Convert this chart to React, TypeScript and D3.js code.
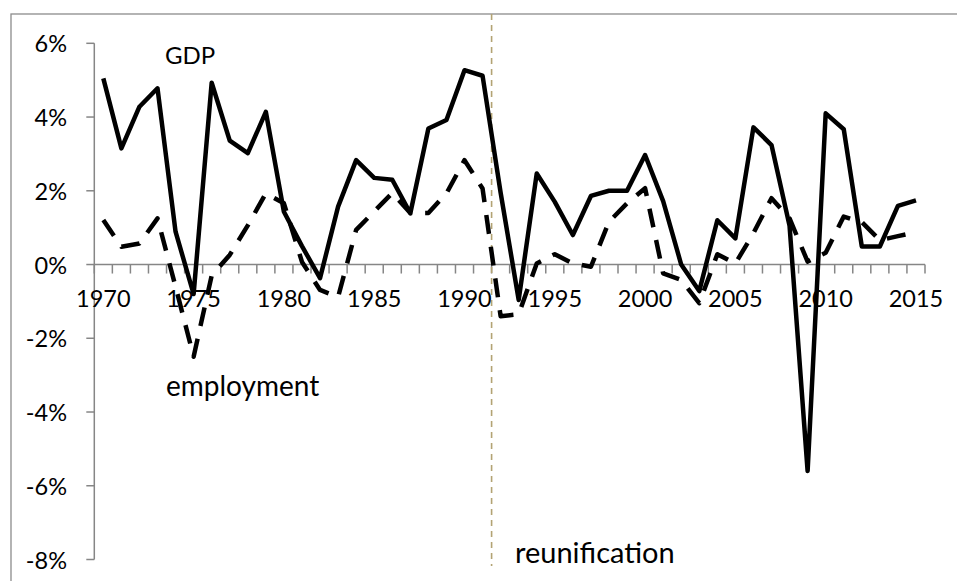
import React from "react";
import * as d3 from "d3";

const years: number[] = [
  1970, 1971, 1972, 1973, 1974, 1975, 1976, 1977, 1978, 1979,
  1980, 1981, 1982, 1983, 1984, 1985, 1986, 1987, 1988, 1989,
  1990, 1991, 1992, 1993, 1994, 1995, 1996, 1997, 1998, 1999,
  2000, 2001, 2002, 2003, 2004, 2005, 2006, 2007, 2008, 2009,
  2010, 2011, 2012, 2013, 2014, 2015,
];

const gdp: number[] = [
  5.05, 3.15, 4.28, 4.78, 0.89, -0.8, 4.93, 3.36, 3.02, 4.14,
  1.43, 0.5, -0.37, 1.57, 2.83, 2.35, 2.3, 1.39, 3.69, 3.92,
  5.27, 5.12, 1.95, -0.96, 2.47, 1.7, 0.8, 1.86, 2.0, 2.0,
  2.97, 1.72, 0.0, -0.72, 1.2, 0.71, 3.72, 3.24, 1.05, -5.6,
  4.1, 3.67, 0.49, 0.49, 1.59, 1.74,
];

const employment: number[] = [
  1.21, 0.48, 0.57, 1.25, -0.6, -2.5, -0.3, 0.26, 1.06, 1.93,
  1.66, 0.07, -0.69, -0.88, 0.94, 1.44, 1.94, 1.4, 1.4, 1.93,
  2.83, 2.06, -1.4, -1.35, 0.03, 0.28, 0.03, -0.06, 1.16, 1.66,
  2.07, -0.24, -0.42, -1.05, 0.28, 0.03, 0.85, 1.8, 1.25, 0.08,
  0.32, 1.3, 1.15, 0.66, 0.77, 0.88,
];

const yTicks: number[] = [-8, -6, -4, -2, 0, 2, 4, 6];
const xLabelYears: number[] = [1970, 1975, 1980, 1985, 1990, 1995, 2000, 2005, 2010, 2015];
const reunificationAfter = 1991;

const W = 957;
const H = 581;
const FONT = "Lato, 'Open Sans', sans-serif";

export default function App() {
  const x = d3
    .scaleBand<number>()
    .domain(years)
    .range([94.3, 925])
    .padding(0);
  const bw = x.bandwidth();
  const cx = (yr: number) => (x(yr) as number) + bw / 2;
  const y = d3.scaleLinear().domain([-8, 6]).range([559.5, 43.3]);

  const line = d3
    .line<number>()
    .x((_, i) => cx(years[i]))
    .y((v) => y(v));

  const boundaries = [...years.map((yr) => x(yr) as number), x.range()[1]];
  const reunX = (x(reunificationAfter) as number) + bw;
  const axisColor = "#868686";

  return (
    <svg
      width={W}
      height={H}
      style={{ position: "absolute", left: 0, top: 0, background: "#fff" }}
      fontFamily={FONT}
    >
      <rect x={0} y={0} width={W} height={H} fill="#fff" />
      <rect
        x={11}
        y={14}
        width={W + 20}
        height={H + 20}
        fill="none"
        stroke="#8c8c8c"
        strokeWidth={1.3}
      />

      {/* y axis */}
      <line x1={x.range()[0]} x2={x.range()[0]} y1={y(6)} y2={y(-8)} stroke={axisColor} strokeWidth={1.5} />
      {yTicks.map((t) => (
        <g key={t}>
          <line x1={x.range()[0] - 8} x2={x.range()[0]} y1={y(t)} y2={y(t)} stroke={axisColor} strokeWidth={1.5} />
          <text
            x={67}
            y={y(t)}
            textAnchor="end"
            dominantBaseline="central"
            fontSize={23.5}
            fill="#000"
          >
            {`${t}%`}
          </text>
        </g>
      ))}

      {/* x axis */}
      <line x1={x.range()[0]} x2={x.range()[1]} y1={y(0)} y2={y(0)} stroke={axisColor} strokeWidth={1.5} />
      {boundaries.map((b, i) => (
        <line key={i} x1={b} x2={b} y1={y(0)} y2={y(0) + 9} stroke={axisColor} strokeWidth={1.5} />
      ))}
      {xLabelYears.map((yr) => (
        <text key={yr} x={cx(yr)} y={307} textAnchor="middle" fontSize={23.5} fill="#000">
          {yr}
        </text>
      ))}

      {/* reunification marker */}
      <line
        x1={reunX}
        x2={reunX}
        y1={14}
        y2={566}
        stroke="#b3a374"
        strokeWidth={1.6}
        strokeDasharray="6,5"
      />

      {/* series */}
      <path
        d={line(employment) || ""}
        fill="none"
        stroke="#000"
        strokeWidth={4.5}
        strokeDasharray="19,13"
        strokeLinejoin="round"
      />
      <path
        d={line(gdp) || ""}
        fill="none"
        stroke="#000"
        strokeWidth={4.5}
        strokeLinejoin="round"
      />

      {/* annotations */}
      <text x={165} y={64} fontSize={24} fill="#000">GDP</text>
      <text x={166} y={396} fontSize={28} fill="#000">employment</text>
      <text x={515} y={563} fontSize={29} fill="#000">reunification</text>
    </svg>
  );
}
